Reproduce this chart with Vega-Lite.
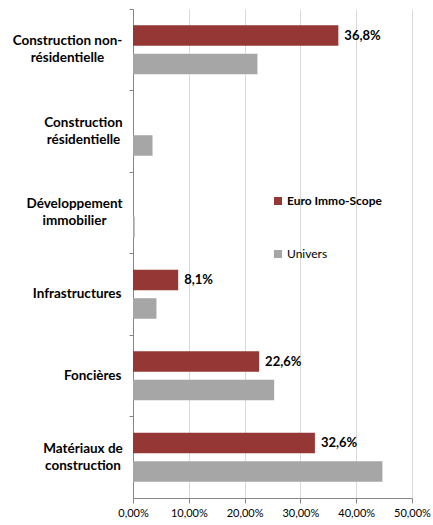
{
  "$schema": "https://vega.github.io/schema/vega-lite/v6.json",
  "width": 279,
  "height": 489,
  "autosize": {"type": "none"},
  "padding": {"left": 133, "top": 9, "right": 21, "bottom": 27},
  "background": "white",
  "config": {
    "locale": {"number": {"decimal": ",", "thousands": " ", "grouping": [3], "currency": ["", " €"]}},
    "font": "Lato",
    "view": {"stroke": null}
  },
  "data": {
    "values": [
      {"sector": "Construction non-résidentielle", "series": "Euro Immo-Scope", "value": 0.368},
      {"sector": "Construction non-résidentielle", "series": "Univers", "value": 0.223},
      {"sector": "Construction résidentielle", "series": "Euro Immo-Scope", "value": 0},
      {"sector": "Construction résidentielle", "series": "Univers", "value": 0.035},
      {"sector": "Développement immobilier", "series": "Euro Immo-Scope", "value": 0},
      {"sector": "Développement immobilier", "series": "Univers", "value": 0.003},
      {"sector": "Infrastructures", "series": "Euro Immo-Scope", "value": 0.081},
      {"sector": "Infrastructures", "series": "Univers", "value": 0.042},
      {"sector": "Foncières", "series": "Euro Immo-Scope", "value": 0.226},
      {"sector": "Foncières", "series": "Univers", "value": 0.253},
      {"sector": "Matériaux de construction", "series": "Euro Immo-Scope", "value": 0.326},
      {"sector": "Matériaux de construction", "series": "Univers", "value": 0.447}
    ]
  },
  "encoding": {
    "y": {
      "field": "sector",
      "type": "nominal",
      "sort": null,
      "scale": {"paddingInner": 0, "paddingOuter": 0},
      "axis": {
        "title": null,
        "bandPosition": 0,
        "labelExpr": "datum.value === 'Construction non-résidentielle' ? ['Construction non-', 'résidentielle'] : datum.value === 'Construction résidentielle' ? ['Construction', 'résidentielle'] : datum.value === 'Développement immobilier' ? ['Développement', 'immobilier'] : datum.value === 'Matériaux de construction' ? ['Matériaux de', 'construction'] : datum.value",
        "labelFontWeight": "bold",
        "labelFontSize": 13.5,
        "labelColor": "#000000",
        "labelLineHeight": 17,
        "labelBound": false,
        "labelAlign": {
          "condition": {"test": "datum.value === 'Infrastructures' || datum.value === 'Foncières'", "value": "right"},
          "value": "center"
        },
        "labelPadding": {
          "condition": [
            {"test": "datum.value === 'Construction non-résidentielle'", "value": 62},
            {"test": "datum.value === 'Construction résidentielle'", "value": 46},
            {"test": "datum.value === 'Développement immobilier'", "value": 55},
            {"test": "datum.value === 'Matériaux de construction'", "value": 46.5}
          ],
          "value": 8
        },
        "labelOffset": {
          "condition": {"test": "datum.value === 'Infrastructures' || datum.value === 'Foncières'", "value": 0},
          "value": -8.5
        },
        "domainColor": "#868686",
        "tickColor": "#868686",
        "tickSize": 4,
        "grid": false
      }
    },
    "yOffset": {
      "field": "series",
      "type": "nominal",
      "scale": {"paddingInner": 0.28, "paddingOuter": 0.57}
    },
    "x": {
      "field": "value",
      "type": "quantitative",
      "scale": {"domain": [0, 0.5], "nice": false},
      "axis": {
        "title": null,
        "format": ".2%",
        "values": [0, 0.1, 0.2, 0.3, 0.4, 0.5],
        "labelFontSize": 11,
        "labelColor": "#000000",
        "labelPadding": 4,
        "labelFlush": false,
        "domainColor": "#868686",
        "tickColor": "#868686",
        "tickSize": 5,
        "gridColor": "#d9d9d9",
        "gridWidth": 1
      }
    }
  },
  "layer": [
    {
      "mark": {"type": "bar"},
      "encoding": {
        "color": {
          "field": "series",
          "type": "nominal",
          "scale": {"domain": ["Euro Immo-Scope", "Univers"], "range": ["#953735", "#a6a6a6"]},
          "legend": {
            "title": null,
            "orient": "none",
            "legendX": 139,
            "legendY": 186,
            "direction": "vertical",
            "symbolType": "square",
            "symbolSize": 64,
            "symbolStrokeWidth": 0,
            "labelFontSize": 12,
            "labelColor": "#000000",
            "rowPadding": 41,
            "labelOffset": 3,
            "encode": {
              "labels": {
                "update": {
                  "fontWeight": {"signal": "datum.label === 'Univers' ? 'normal' : 'bold'"}
                }
              }
            }
          }
        }
      }
    },
    {
      "transform": [{"filter": "datum.series === 'Euro Immo-Scope' && datum.value > 0"}],
      "mark": {"type": "text", "align": "left", "baseline": "middle", "dx": 6, "fontWeight": "bold", "fontSize": 13, "color": "#000000"},
      "encoding": {
        "text": {"field": "value", "type": "quantitative", "format": ".1%"}
      }
    }
  ]
}
